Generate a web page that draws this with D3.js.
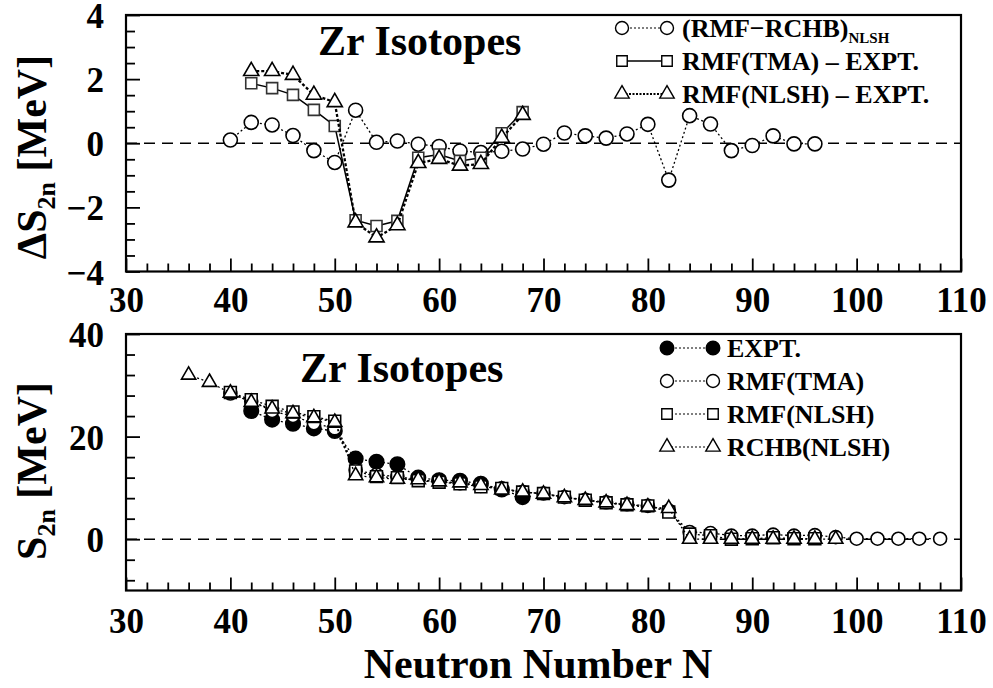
<!DOCTYPE html>
<html>
<head>
<meta charset="utf-8">
<script src="https://cdn.jsdelivr.net/npm/d3@7"></script>
</head>
<body style="margin:0;padding:0;background:#fff">
<svg id="chart" width="993" height="688" style="display:block"></svg>
<script>
// ---- Upper panel: differences in two-neutron separation energy (MeV) ----
const nDiffRchb = [40,42,44,46,48,50,52,54,56,58,60,62,64,66,68,70,72,74,76,78,80,82,84,86,88,90,92,94,96];
const diffRmfRchb = [0.10,0.65,0.57,0.24,-0.23,-0.60,1.03,0.03,0.07,-0.03,-0.10,-0.24,-0.29,-0.25,-0.18,-0.03,0.32,0.23,0.16,0.29,0.59,-1.15,0.86,0.60,-0.23,-0.07,0.23,-0.02,-0.02];

const nDiffExpt = [42,44,46,48,50,52,54,56,58,60,62,64,66,68];
const diffTmaExpt = [1.87,1.72,1.51,1.04,0.54,-2.40,-2.58,-2.42,-0.45,-0.35,-0.55,-0.45,0.31,0.97];
const diffNlshExpt = [2.25,2.25,2.13,1.51,1.28,-2.47,-2.94,-2.56,-0.62,-0.49,-0.70,-0.65,0.17,0.88];

// ---- Lower panel: two-neutron separation energy S2n (MeV) ----
const nExpt = [42,44,46,48,50,52,54,56,58,60,62,64,66,68];
const s2nExpt = [25.0,23.3,22.5,21.6,21.1,15.7,15.1,14.6,12.0,11.5,11.4,10.8,9.7,8.2];

const nTma = [40,42,44,46,48,50,52,54,56,58,60,62,64,66,68,70,72,74,76,78,80,82,84,86,88,90,92,94,96,98,100,102,104,106,108];
const s2nTma = [28.4,26.9,25.0,24.0,22.6,21.6,13.5,12.6,12.2,11.6,11.2,10.9,10.4,9.9,9.2,8.9,8.2,7.7,7.2,6.8,6.5,5.6,1.4,1.2,0.7,0.7,0.9,0.7,0.8,0.4,0.1,0.1,0.1,0.1,0.1];

const nNlsh = [40,42,44,46,48,50,52,54,56,58,60,62,64,66,68,70,72,74,76,78,80,82,84,86,88,90,92,94,96];
const s2nNlsh = [28.6,27.2,25.9,24.8,23.9,23.0,13.3,12.2,12.0,11.4,11.1,10.8,10.2,9.9,9.2,8.9,8.2,7.6,7.1,6.7,6.5,5.3,1.0,0.7,0.0,0.1,0.3,0.1,0.1];

const nRchb = [36,38,40,42,44,46,48,50,52,54,56,58,60,62,64,66,68,70,72,74,76,78,80,82,84,86,88,90,92,94,96,98];
const s2nRchb = [32.0,30.6,28.5,26.7,25.4,24.5,23.7,22.8,12.4,12.0,11.7,11.6,11.2,11.0,10.5,9.6,9.2,8.8,8.1,7.6,7.1,6.6,6.3,6.0,0.0,0.0,0.0,0.0,0.0,0.0,0.0,0.0];

// Axis ticks and labels
const xMajorTicks = [30,40,50,60,70,80,90,100,110];
const topYMajor = [4,2,0,-2,-4];
const botYMajor = [40,20,0];

const FONT = "Liberation Serif";
const svg = d3.select("#chart");

const x = d3.scaleLinear().domain([30, 110]).range([126, 961]);
const yTop = d3.scaleLinear().domain([-4, 4]).range([271.5, 15]);
const yBot = d3.scaleLinear().domain([-10, 40]).range([590.5, 334]);

const zip = (xs, ys) => xs.map((n, i) => [n, ys[i]]);

function panelFrame(y, yMinorRange, yMajor, labelBaselineY) {
  const g = svg.append("g");
  const [y0, y1] = y.range();
  // x minor and major ticks, pointing inward
  const xMinor = d3.axisBottom(x).tickValues(d3.range(32, 110, 2).filter(v => v % 10 !== 0)).tickSize(-8).tickFormat("");
  const xMaj = d3.axisBottom(x).tickValues(xMajorTicks).tickSize(-13).tickFormat(d3.format("d"));
  [xMinor, xMaj].forEach(ax => {
    const a = g.append("g").attr("transform", `translate(0,${y0})`).call(ax);
    a.select(".domain").remove();
    a.selectAll("line").attr("stroke", "#000").attr("stroke-width", 1.8);
    a.selectAll("text")
      .attr("y", labelBaselineY - y0).attr("dy", null)
      .style("font-size", "35px");
  });
  // y minor and major ticks, pointing inward
  const yMinor = d3.axisLeft(y).tickValues(yMinorRange).tickSize(-9).tickFormat("");
  const yMaj = d3.axisLeft(y).tickValues(yMajor).tickSize(-14).tickPadding(22);
  [yMinor, yMaj].forEach(ax => {
    const a = g.append("g").attr("transform", `translate(${x.range()[0]},0)`).call(ax);
    a.select(".domain").remove();
    a.selectAll("line").attr("stroke", "#000").attr("stroke-width", 1.8);
    a.selectAll("text").attr("dy", "0.36em").style("font-size", "35px");
  });
  // frame
  g.append("rect")
    .attr("x", x.range()[0]).attr("y", y1)
    .attr("width", x.range()[1] - x.range()[0]).attr("height", y0 - y1)
    .attr("fill", "none").attr("stroke", "#000").attr("stroke-width", 2.2);
  // zero reference
  g.append("line")
    .attr("x1", x.range()[0]).attr("x2", x.range()[1])
    .attr("y1", y(0)).attr("y2", y(0))
    .attr("stroke", "#000").attr("stroke-width", 1.6).attr("stroke-dasharray", "11,7");
  return g;
}

panelFrame(yTop, d3.range(-3.5, 4, 0.5).filter(v => v % 2 !== 0), topYMajor, 312);
panelFrame(yBot, d3.range(-8, 40, 4).filter(v => v % 20 !== 0), botYMajor, 633);

function drawSeries(y, data, opts) {
  const g = svg.append("g");
  const line = d3.line().x(d => x(d[0])).y(d => y(d[1]));
  g.append("path")
    .attr("d", line(data))
    .attr("fill", "none")
    .attr("stroke", "#000")
    .attr("stroke-width", opts.lw)
    .attr("stroke-dasharray", opts.dash || null);
  const sym = d3.symbol().type(opts.type).size(opts.size);
  g.selectAll("path.pt").data(data).join("path")
    .attr("class", "pt")
    .attr("transform", d => `translate(${x(d[0])},${y(d[1])})`)
    .attr("d", sym())
    .attr("fill", opts.fill)
    .attr("stroke", opts.stroke || "#000")
    .attr("stroke-width", opts.sw || 1.6);
}

// Upper panel series
drawSeries(yTop, zip(nDiffRchb, diffRmfRchb), { type: d3.symbolCircle, size: 154, fill: "#fff", lw: 1.3, dash: "2,2.5" });
drawSeries(yTop, zip(nDiffExpt, diffTmaExpt), { type: d3.symbolSquare, size: 121, fill: "#fff", lw: 1.5, stroke: "#333" });
drawSeries(yTop, zip(nDiffExpt, diffNlshExpt), { type: d3.symbolTriangle, size: 100, fill: "#fff", lw: 2.3, dash: "3,2" });

// Lower panel series
drawSeries(yBot, zip(nExpt, s2nExpt), { type: d3.symbolCircle, size: 165, fill: "#000", lw: 1.3, dash: "2,2.5" });
drawSeries(yBot, zip(nTma, s2nTma), { type: d3.symbolCircle, size: 133, fill: "#fff", lw: 1.3, dash: "2,2.5" });
drawSeries(yBot, zip(nNlsh, s2nNlsh), { type: d3.symbolSquare, size: 140, fill: "#fff", lw: 1.3, dash: "2,2.5" });
drawSeries(yBot, zip(nRchb, s2nRchb), { type: d3.symbolTriangle, size: 88, fill: "#fff", lw: 1.3, dash: "2,2.5" });

// Panel titles
svg.append("text").attr("x", 318).attr("y", 55).style("font-size", "42px").text("Zr Isotopes");
svg.append("text").attr("x", 300).attr("y", 382).style("font-size", "42px").text("Zr Isotopes");

// Legends
function legendRow(xl, xr, xt, yc, type, fill, size, lw, dash, build) {
  const g = svg.append("g");
  g.append("line").attr("x1", xl).attr("x2", xr).attr("y1", yc).attr("y2", yc)
    .attr("stroke", "#000").attr("stroke-width", lw).attr("stroke-dasharray", dash || null);
  const sym = d3.symbol().type(type).size(size);
  [xl, xr].forEach(px => {
    g.append("path").attr("transform", `translate(${px},${yc})`).attr("d", sym())
      .attr("fill", fill).attr("stroke", "#000").attr("stroke-width", 1.4);
  });
  const t = g.append("text").attr("x", xt).attr("y", yc + 9).style("font-size", "26px");
  build(t);
}

legendRow(622, 667, 682, 28, d3.symbolCircle, "#fff", 133, 1.2, "2,2", t => {
  t.append("tspan").text("(RMF\u2212RCHB)");
  t.append("tspan").attr("dy", 6).style("font-size", "15px").text("NLSH");
});
legendRow(622, 667, 682, 61, d3.symbolSquare, "#fff", 110, 1.5, null, t => t.text("RMF(TMA) \u2013 EXPT."));
legendRow(622, 667, 682, 94, d3.symbolTriangle, "#fff", 90, 2, "2,1.5", t => t.text("RMF(NLSH) \u2013 EXPT."));

legendRow(667, 713, 727, 348, d3.symbolCircle, "#000", 145, 1.2, "2,2", t => t.text("EXPT."));
legendRow(667, 713, 727, 381, d3.symbolCircle, "#fff", 133, 1.2, "2,2", t => t.text("RMF(TMA)"));
legendRow(667, 713, 727, 414, d3.symbolSquare, "#fff", 110, 1.2, "2,2", t => t.text("RMF(NLSH)"));
legendRow(667, 713, 727, 447, d3.symbolTriangle, "#fff", 90, 1.2, "2,2", t => t.text("RCHB(NLSH)"));

// Axis titles
const yl1 = svg.append("text").attr("transform", "translate(46,157) rotate(-90)")
  .attr("text-anchor", "middle").style("font-size", "42px");
yl1.append("tspan").text("\u0394S");
yl1.append("tspan").attr("dy", 9).style("font-size", "26px").text("2n");
yl1.append("tspan").attr("dy", -9).text(" [MeV]");

const yl2 = svg.append("text").attr("transform", "translate(46,471) rotate(-90)")
  .attr("text-anchor", "middle").style("font-size", "42px");
yl2.append("tspan").text("S");
yl2.append("tspan").attr("dy", 9).style("font-size", "26px").text("2n");
yl2.append("tspan").attr("dy", -9).text(" [MeV]");

svg.append("text").attr("x", 538).attr("y", 678).attr("text-anchor", "middle")
  .style("font-size", "42px").text("Neutron Number N");

// Bold serif face for every label
svg.selectAll("text")
  .style("font-family", FONT)
  .style("font-weight", "bold")
  .attr("fill", "#000");
</script>
</body>
</html>
